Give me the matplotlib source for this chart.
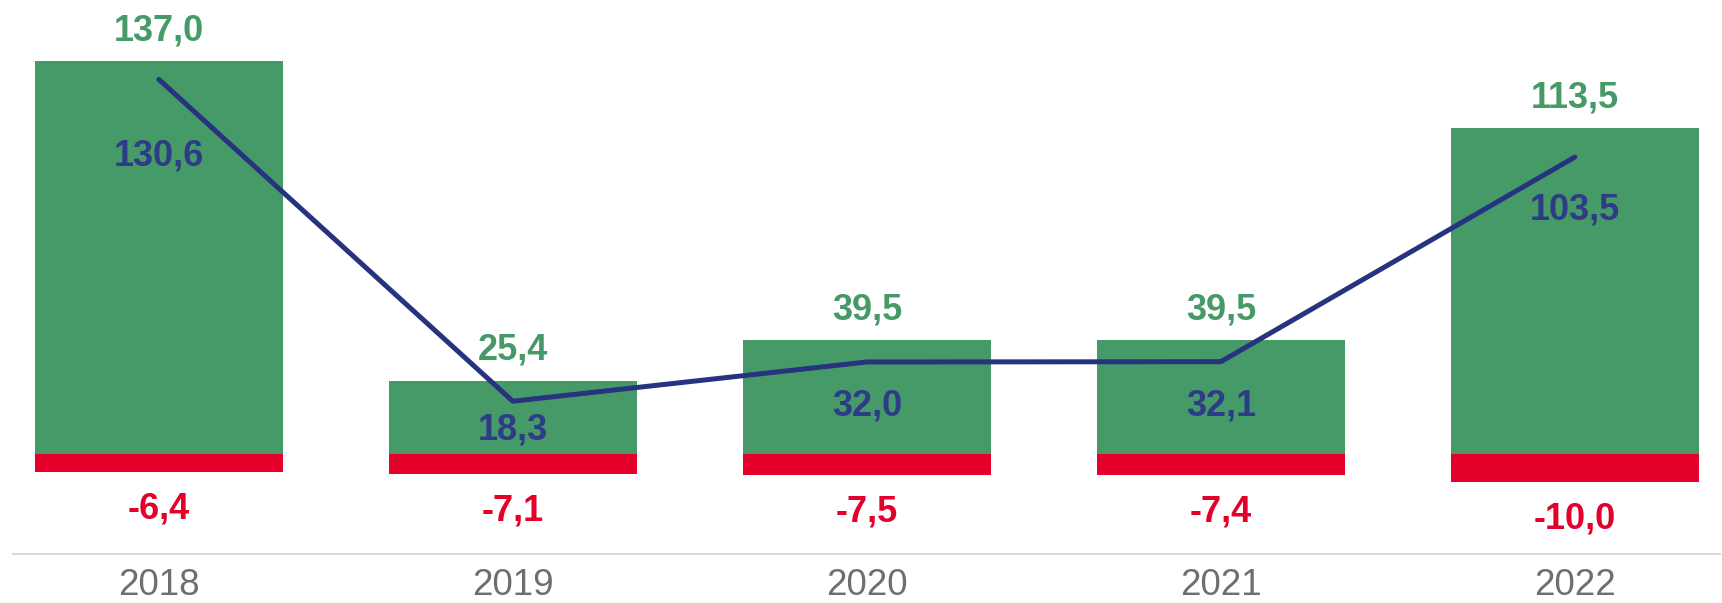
import matplotlib
matplotlib.use("Agg")
import matplotlib.pyplot as plt

years = ["2018", "2019", "2020", "2021", "2022"]
positive = [137.0, 25.4, 39.5, 39.5, 113.5]
negative = [-6.4, -7.1, -7.5, -7.4, -10.0]
net = [130.6, 18.3, 32.0, 32.1, 103.5]

GREEN = "#459A67"
RED = "#E4002B"
NAVY = "#28337F"
NAVY_TXT = "#2E3C87"
GREY = "#6E6E6E"

plt.rcParams['font.family'] = ['Liberation Sans', 'DejaVu Sans']
DPI = 100
fig = plt.figure(figsize=(17.22, 6.03), dpi=DPI)
ax = fig.add_axes([13 / 1722, (603 - 554) / 603, (1720 - 13) / 1722, 554 / 603])
x = list(range(len(years)))
ax.bar(x, positive, width=0.7, color=GREEN, zorder=2)
ax.bar(x, negative, width=0.7, color=RED, zorder=2)
ax.plot(x, net, color=NAVY, lw=3.6, zorder=3, solid_capstyle='round')

ax.set_xlim(-0.412, 4.41)
ax.set_ylim(-35.0, 158.3)
for s in ["top", "right", "left"]:
    ax.spines[s].set_visible(False)
ax.spines["bottom"].set_color("#D9D9D9")
ax.spines["bottom"].set_linewidth(1.5)
ax.set_yticks([])
ax.set_xticks([])

px = 72.0 / DPI  # points per pixel
fs = 26
line_offsets = [86, 38, 54, 54, 62]

def fmt(v):
    return f"{v:.1f}".replace(".", ",")

for i in x:
    ax.annotate(fmt(positive[i]), (i, positive[i]), xytext=(0, 21 * px), textcoords="offset points",
                ha="center", va="baseline", color=GREEN, fontsize=fs, fontweight="bold")
    ax.annotate(fmt(negative[i]), (i, negative[i]), xytext=(0, -46.5 * px), textcoords="offset points",
                ha="center", va="baseline", color=RED, fontsize=fs, fontweight="bold")
    ax.annotate(fmt(net[i]), (i, net[i]), xytext=(0, -line_offsets[i] * px), textcoords="offset points",
                ha="center", va="baseline", color=NAVY_TXT, fontsize=fs, fontweight="bold", zorder=4)
    ax.annotate(years[i], (i, 0), xycoords=("data", "axes fraction"), xytext=(0, -41 * px),
                textcoords="offset points", ha="center", va="baseline", color=GREY, fontsize=26.5,
                annotation_clip=False)

fig.savefig("out.png", dpi=DPI)
